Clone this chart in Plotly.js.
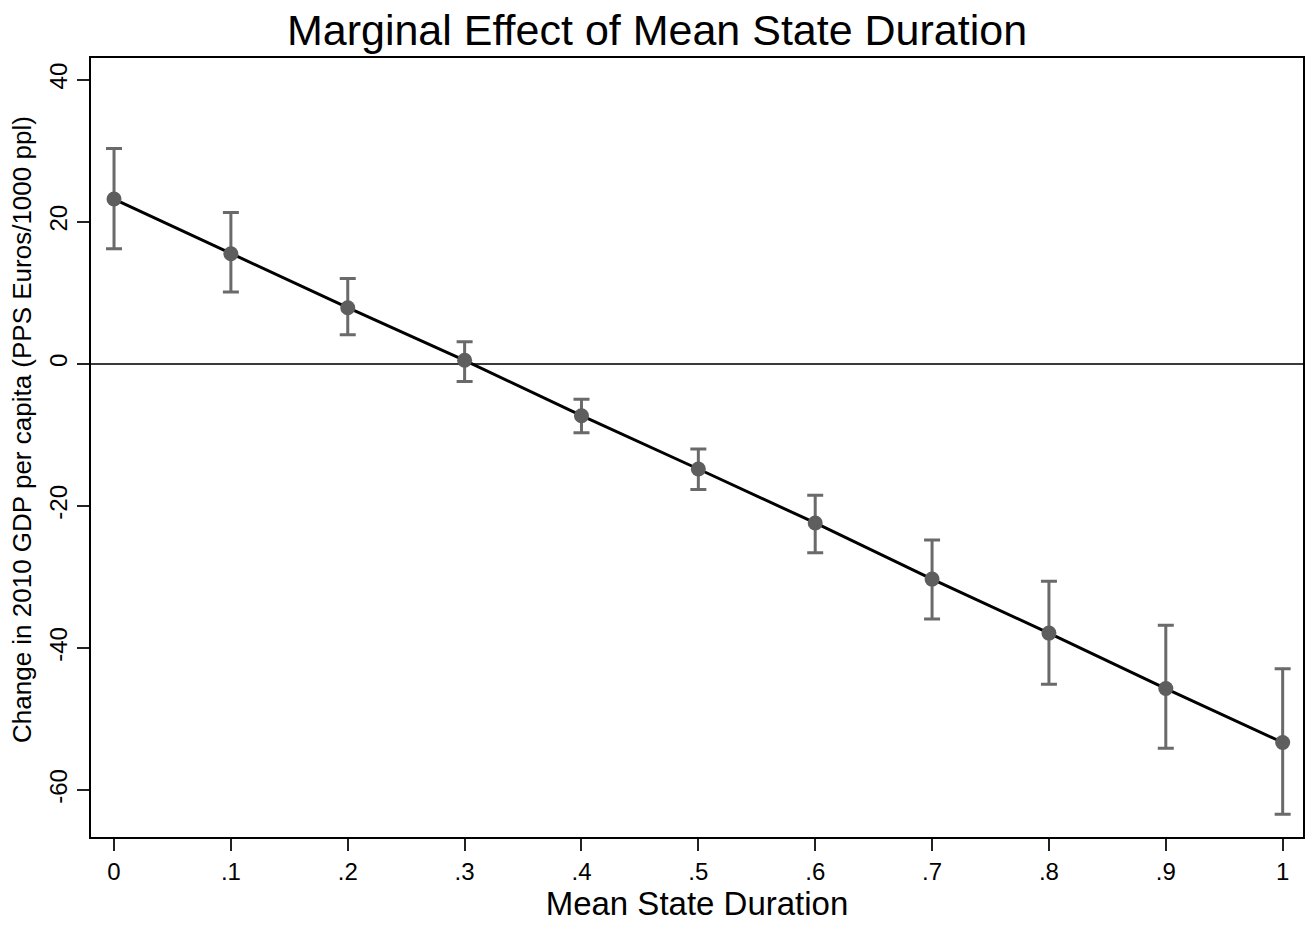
<!DOCTYPE html>
<html>
<head>
<meta charset="utf-8">
<script src="https://cdn.plot.ly/plotly-3.0.1.min.js"></script>
<style>html,body{margin:0;padding:0;background:#fff;}#chart{width:1314px;height:925px;}</style>
</head>
<body>
<div id="chart"></div>
<script>
const durations = [0, 0.1, 0.2, 0.3, 0.4, 0.5, 0.6, 0.7, 0.8, 0.9, 1.0];
const effects   = [23.2, 15.5, 7.9, 0.5, -7.3, -14.8, -22.4, -30.3, -37.9, -45.7, -53.3];
const upper     = [30.3, 21.3, 12.0, 3.1, -5.0, -12.0, -18.5, -24.8, -30.6, -36.8, -42.9];
const lower     = [16.2, 10.1, 4.1, -2.5, -9.7, -17.7, -26.6, -35.9, -45.1, -54.1, -63.4];
const xTickVals = [0, 0.1, 0.2, 0.3, 0.4, 0.5, 0.6, 0.7, 0.8, 0.9, 1];
const xTickText = ["0", ".1", ".2", ".3", ".4", ".5", ".6", ".7", ".8", ".9", "1"];
const yTickVals = [-60, -40, -20, 0, 20, 40];
const yTickText = ["-60", "-40", "-20", "0", "20", "40"];

const errPlus = effects.map((v, i) => upper[i] - v);
const errMinus = effects.map((v, i) => v - lower[i]);

const font = "Liberation Sans, Arial, sans-serif";

const trace = {
  x: durations,
  y: effects,
  type: 'scatter',
  mode: 'lines+markers',
  line: {color: '#000000', width: 3},
  marker: {color: '#5e5e5e', size: 15},
  error_y: {type: 'data', symmetric: false, array: errPlus, arrayminus: errMinus,
            color: '#6a6a6a', thickness: 3, width: 8},
  hoverinfo: 'skip'
};

const layout = {
  width: 1314, height: 925,
  margin: {l: 91, r: 11, t: 58, b: 88},
  paper_bgcolor: '#ffffff', plot_bgcolor: '#ffffff',
  showlegend: false,
  title: {text: 'Marginal Effect of Mean State Duration', x: 0.5, xanchor: 'center',
          y: 1 - 30/925, yref: 'container', yanchor: 'middle',
          font: {family: font, size: 43, color: '#000'}},
  xaxis: {
    range: [-0.0197, 1.0174],
    tickvals: xTickVals, ticktext: xTickText,
    ticks: 'outside', ticklen: 12, tickwidth: 2, tickcolor: '#222',
    showgrid: false, zeroline: false,
    showline: true, linecolor: '#000', linewidth: 2, mirror: true,
    tickfont: {family: font, size: 24, color: '#000'},
    title: {text: 'Mean State Duration', font: {family: font, size: 33, color: '#000'}, standoff: 2}
  },
  yaxis: {
    range: [-66.6, 43.05],
    tickvals: yTickVals, ticktext: yTickText,
    tickangle: -90,
    ticks: 'outside', ticklen: 12, tickwidth: 2, tickcolor: '#222',
    showgrid: false,
    zeroline: true, zerolinecolor: '#3a3a3a', zerolinewidth: 2.5,
    showline: true, linecolor: '#000', linewidth: 2, mirror: true,
    tickfont: {family: font, size: 24, color: '#000'}
  },
  annotations: [{
    text: 'Change in 2010 GDP per capita (PPS Euros/1000 ppl)',
    xref: 'paper', yref: 'paper', x: -69/1212, y: 0.5225,
    xanchor: 'center', yanchor: 'middle', textangle: -90, showarrow: false,
    font: {family: font, size: 26, color: '#000'}
  }]
};

Plotly.newPlot('chart', [trace], layout, {displayModeBar: false, staticPlot: true});
</script>
</body>
</html>
